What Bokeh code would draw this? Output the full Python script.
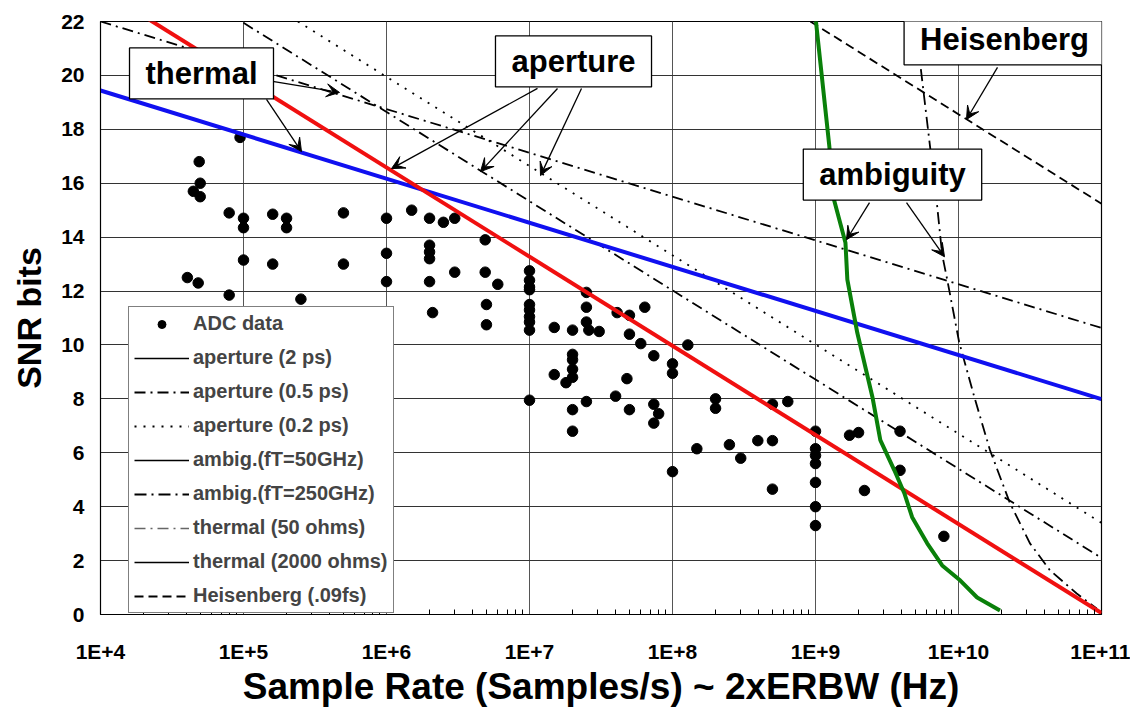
from bokeh.plotting import figure
from bokeh.models import (FixedTicker, CustomJSTickFormatter, Label, Arrow, VeeHead,
                          Legend, LegendItem)
from bokeh.embed import file_html
from bokeh.resources import INLINE

FONT = "Liberation Sans"
NAN = float("nan")

# ---------------- data ----------------
adc_rate = [4.46e4, 4.9e4, 4.98e4, 4.98e4, 4.05e4, 4.82e4, 9.46e4, 7.94e4, 1.0e5, 1.0e5,
            1.0e5, 7.94e4, 1.6e5, 2.0e5, 2.0e5, 1.6e5, 2.52e5, 5.0e5, 5.0e5, 1.0e6,
            1.0e6, 1.0e6, 1.5e6, 2.0e6, 2.5e6, 3.0e6, 2.0e6, 2.0e6, 2.0e6, 3.0e6,
            2.0e6, 2.1e6, 4.9e6, 4.9e6, 6.0e6, 5.0e6, 5.0e6, 1.0e7, 1.0e7, 1.0e7,
            1.0e7, 1.0e7, 1.0e7, 1.0e7, 1.0e7, 1.0e7, 1.0e7, 1.49e7, 2.0e7, 2.5e7,
            2.5e7, 2.5e7, 2.6e7, 3.07e7, 4.1e7, 5.0e7, 6.4e7, 5.0e7, 6.0e7, 7.4e7,
            1.0e8, 1.0e8, 1.28e8, 1.49e7, 2.0e7, 2.0e7, 2.0e7, 2.0e7, 1.8e7, 4.8e7,
            2.5e7, 4.0e7, 2.0e7, 2.0e7, 5.0e7, 7.4e7, 8.0e7, 7.4e7, 1.0e8, 1.48e8,
            2.0e8, 2.0e8, 2.5e8, 3.0e8, 3.95e8, 5.0e8, 5.0e8, 6.4e8, 5.0e8, 1.0e9,
            1.0e9, 1.0e9, 1.0e9, 1.0e9, 1.0e9, 1.0e9, 1.73e9, 2.0e9, 2.2e9, 3.9e9,
            3.9e9, 7.9e9]
adc_snr = [15.7, 16.8, 16.0, 15.5, 12.5, 12.3, 17.7, 14.9, 14.7, 14.35,
           13.15, 11.85, 14.85, 14.7, 14.35, 13.0, 11.7, 14.9, 13.0, 14.7,
           13.4, 12.35, 15.0, 14.7, 14.55, 14.7, 13.7, 13.45, 13.2, 12.7,
           12.35, 11.2, 13.9, 12.7, 12.25, 11.5, 10.75, 12.75, 12.4, 12.15,
           12.05, 11.5, 11.3, 11.05, 10.85, 10.55, 7.95, 10.65, 10.55, 11.95,
           11.4, 10.85, 10.55, 10.5, 11.2, 11.1, 11.4, 10.4, 10.05, 9.6,
           9.3, 8.95, 10.0, 8.9, 9.65, 9.45, 9.1, 8.8, 8.6, 8.75,
           7.9, 8.1, 7.6, 6.8, 7.6, 7.8, 7.45, 7.1, 5.3, 6.15,
           8.0, 7.65, 6.3, 5.8, 6.45, 6.45, 7.8, 7.9, 4.65, 6.8,
           6.15, 5.9, 5.6, 4.9, 4.0, 3.3, 6.65, 6.75, 4.6, 6.8,
           5.35, 2.9]

aperture_2ps_x = [2.0e4, 1.0e11]
aperture_2ps_y = [22.2, 0.05]
aperture_05ps_x = [1.0e5, 1.0e11]
aperture_05ps_y = [21.95, 2.1]
aperture_02ps_x = [2.4e5, 1.0e11]
aperture_02ps_y = [22.0, 3.4]
thermal_50_x = [1.0e4, 1.0e11]
thermal_50_y = [22.0, 10.63]
thermal_2000_x = [1.0e4, 1.0e11]
thermal_2000_y = [19.44, 7.99]
heisenberg_x = [9.2e8, 1.0e11]
heisenberg_y = [22.0, 15.24]
ambig_50_x = [1.0e9, 1.25e9, 1.34e9, 1.62e9, 1.67e9, 1.96e9, 2.5e9, 2.84e9,
              3.56e9, 4.18e9, 4.74e9, 6.04e9, 7.69e9, 1.03e10, 1.35e10, 1.95e10]
ambig_50_y = [22.16, 17.36, 15.43, 13.79, 12.42, 10.45, 8.07, 6.47,
              5.35, 4.50, 3.61, 2.64, 1.82, 1.26, 0.63, 0.15]
ambig_250_x = [4.98e9, 6.24e9, 7.1e9, 7.69e9, 8.34e9, 1.01e10, 1.29e10, 1.66e10,
               2.29e10, 3.16e10, 4.36e10, 6.71e10, 9.25e10]
ambig_250_y = [22.0, 17.62, 15.13, 13.35, 12.42, 10.11, 8.07, 6.10,
               4.13, 2.64, 1.64, 0.78, 0.22]

x_decades = [1e4, 1e5, 1e6, 1e7, 1e8, 1e9, 1e10, 1e11]
x_tick_labels = ["1E+4", "1E+5", "1E+6", "1E+7", "1E+8", "1E+9", "1E+10", "1E+11"]
y_ticks = [0, 2, 4, 6, 8, 10, 12, 14, 16, 18, 20, 22]

legend_labels = ["ADC data", "aperture (2 ps)", "aperture (0.5 ps)", "aperture (0.2 ps)",
                 "ambig.(fT=50GHz)", "ambig.(fT=250GHz)", "thermal (50 ohms)",
                 "thermal (2000 ohms)", "Heisenberg (.09fs)"]

# ---------------- figure ----------------
p = figure(width=1130, height=710, x_axis_type="log", x_range=(1e4, 1e11), y_range=(0, 22),
           output_backend="svg", toolbar_location=None,
           min_border_left=100, min_border_right=29, min_border_top=21, min_border_bottom=96)
p.background_fill_color = "white"
p.border_fill_color = "white"
p.outline_line_color = "black"
p.outline_line_width = 1.2

minor = [m * d for d in x_decades[:-1] for m in range(2, 10)]
p.xaxis.ticker = FixedTicker(ticks=x_decades, minor_ticks=minor)
p.xaxis.formatter = CustomJSTickFormatter(
    args=dict(labels=x_tick_labels),
    code="const i = Math.round(Math.log10(tick)) - 4; return labels[i];")
p.yaxis.ticker = FixedTicker(ticks=y_ticks)

for ax in (p.xaxis, p.yaxis):
    ax.axis_line_color = "black"
    ax.major_tick_in = 0
    ax.major_tick_out = 0
    ax.major_label_text_font = FONT
    ax.major_label_text_font_style = "bold"
    ax.major_label_text_color = "black"
    ax.axis_label_text_font = FONT
    ax.axis_label_text_font_style = "bold"
    ax.axis_label_text_color = "black"
p.xaxis.minor_tick_in = 5
p.xaxis.minor_tick_out = 0
p.xaxis.minor_tick_line_color = "black"
p.yaxis.minor_tick_line_color = None
p.xaxis.major_label_text_font_size = "21px"
p.yaxis.major_label_text_font_size = "21px"
p.xaxis.major_label_standoff = 25
p.yaxis.major_label_standoff = 16
p.xaxis.axis_label = "Sample Rate (Samples/s) ~ 2xERBW (Hz)"
p.yaxis.axis_label = "SNR bits"
p.xaxis.axis_label_text_font_size = "37px"
p.yaxis.axis_label_text_font_size = "34px"
p.xaxis.axis_label_standoff = 0
p.yaxis.axis_label_standoff = 10

p.xgrid.grid_line_color = "#555555"
p.ygrid.grid_line_color = "#333333"
p.xgrid.grid_line_width = 1
p.ygrid.grid_line_width = 1

# black theory curves
r_a05 = p.line(aperture_05ps_x, aperture_05ps_y, color="black", line_width=1.8, line_dash="11 5 2 5")
r_a02 = p.line(aperture_02ps_x, aperture_02ps_y, color="black", line_width=1.8, line_dash="2 7")
r_t50 = p.line(thermal_50_x, thermal_50_y, color="black", line_width=1.8, line_dash="11 5 2 5")
r_am250 = p.line(ambig_250_x, ambig_250_y, color="black", line_width=1.8, line_dash="12 5 2 5")
r_heis = p.line(heisenberg_x, heisenberg_y, color="black", line_width=1.8, line_dash="9 5")

r_adc = p.scatter(adc_rate, adc_snr, size=10.5, color="black", marker="circle")

# coloured (highlighted) solid curves
p.line(thermal_2000_x, thermal_2000_y, color="#1010f0", line_width=4)
p.line(aperture_2ps_x, aperture_2ps_y, color="#f01010", line_width=4)
p.line(ambig_50_x, ambig_50_y, color="#0a800a", line_width=4)

# legend-only black samples (NaN: nothing drawn in the plot area)
r_a2_leg = p.line([NAN], [NAN], color="black", line_width=1.6)
r_am50_leg = p.line([NAN], [NAN], color="black", line_width=1.6)
r_t2000_leg = p.line([NAN], [NAN], color="black", line_width=1.6)
r_t50_leg = p.line([NAN], [NAN], color="#666666", line_width=1.6, line_dash="11 5 2 5")

legend = Legend(items=[
    LegendItem(label=legend_labels[0], renderers=[r_adc]),
    LegendItem(label=legend_labels[1], renderers=[r_a2_leg]),
    LegendItem(label=legend_labels[2], renderers=[r_a05]),
    LegendItem(label=legend_labels[3], renderers=[r_a02]),
    LegendItem(label=legend_labels[4], renderers=[r_am50_leg]),
    LegendItem(label=legend_labels[5], renderers=[r_am250]),
    LegendItem(label=legend_labels[6], renderers=[r_t50_leg]),
    LegendItem(label=legend_labels[7], renderers=[r_t2000_leg]),
    LegendItem(label=legend_labels[8], renderers=[r_heis]),
], location=(28, 1))
legend.border_line_color = "black"
legend.border_line_width = 1
legend.background_fill_color = "white"
legend.background_fill_alpha = 1
legend.label_text_font = FONT
legend.label_text_font_style = "bold"
legend.label_text_font_size = "20px"
legend.glyph_width = 55
legend.glyph_height = 20
legend.label_height = 20
legend.label_standoff = 4
legend.spacing = 11
legend.padding = 5
legend.margin = 0
p.add_layout(legend)

# ---------------- callouts (page-pixel layout converted to data space) ----------------
def to_data(px, py):
    return 10 ** (4 + (px - 101) / 143.0), (614 - py) / 26.9

callouts = [("thermal", 202, 74), ("aperture", 574, 62),
            ("Heisenberg", 1005, 40), ("ambiguity", 893, 175)]
arrows = [(273, 82, 340, 93), (267, 100, 302, 152),
          (538, 89, 392, 169), (558, 89, 481, 172), (582, 89, 541, 176),
          (998, 68, 967, 120),
          (870, 203, 847, 240), (907, 203, 945, 257)]

for (x0, y0, x1, y1) in arrows:
    xs, ys = to_data(x0, y0)
    xe, ye = to_data(x1, y1)
    p.add_layout(Arrow(x_start=xs, y_start=ys, x_end=xe, y_end=ye, line_width=1.3,
                       line_color="black",
                       end=VeeHead(size=13, fill_color="black", line_color="black")))

for (txt, cx, cy) in callouts:
    x, y = to_data(cx, cy)
    p.add_layout(Label(x=x, y=y, text=txt, text_align="center", text_baseline="middle",
                       text_font=FONT, text_font_style="bold", text_font_size="31px",
                       text_color="black", border_line_color="black", border_line_width=1.3,
                       background_fill_color="white", background_fill_alpha=1,
                       padding=(16, 16, 8, 8)))

open("out.html", "w").write(file_html(p, INLINE))
